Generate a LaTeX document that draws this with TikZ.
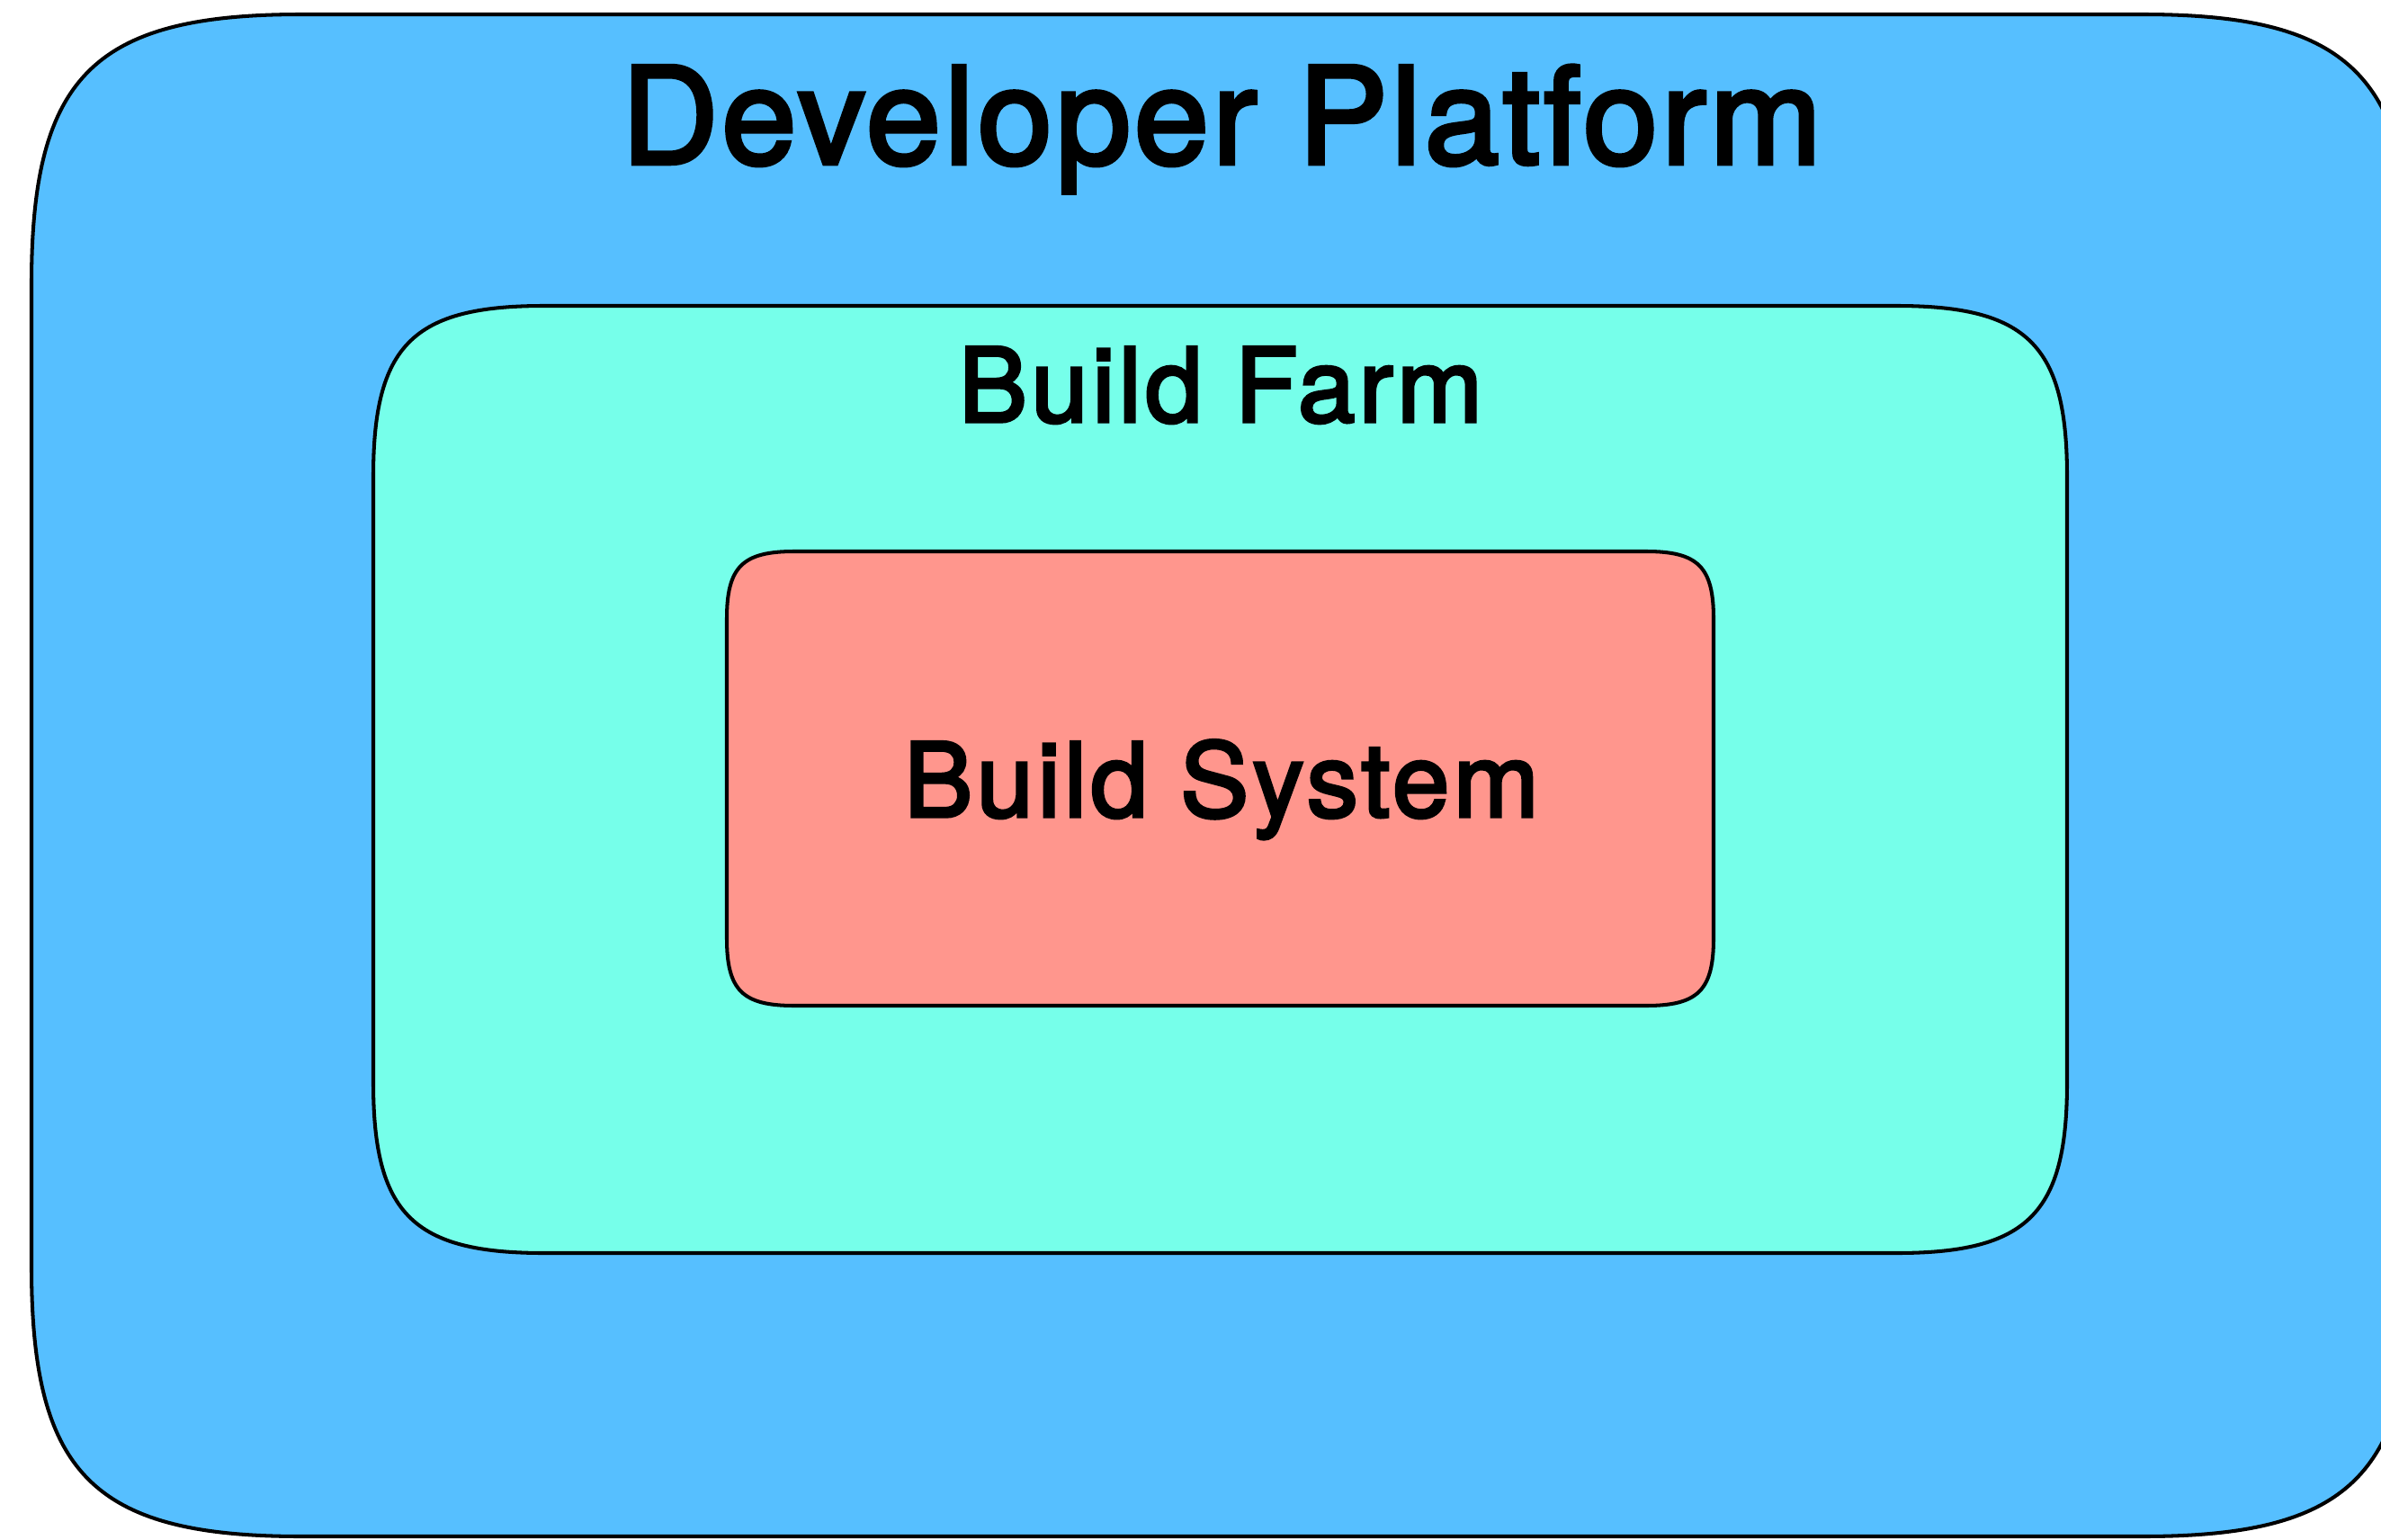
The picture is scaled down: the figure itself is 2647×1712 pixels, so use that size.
\documentclass[tikz,border=0pt]{standalone}
\usepackage{fontspec}
\setmainfont{TeX Gyre Heros}
\definecolor{platformblue}{RGB}{86,191,255}
\definecolor{farmaqua}{RGB}{118,255,234}
\definecolor{systemsalmon}{RGB}{255,150,141}
\tikzset{
  layer/.style={draw=black, line width=1.15pt},
  title/.style={anchor=base, inner sep=0pt, text=black},
}
% rectangle with smooth (continuous-curvature) corners:
% #1,#2 = top-left, #3,#4 = bottom-right, #5 = corner extent, #6 = fill
\newcommand{\smoothrect}[6]{%
  \pgfmathsetmacro\cornerk{#5*0.23}%
  \path[layer, fill=#6]
    (#1,{#2+#5})
      .. controls (#1,{#2+\cornerk}) and ({#1+\cornerk},#2) .. ({#1+#5},#2)
    -- ({#3-#5},#2)
      .. controls ({#3-\cornerk},#2) and (#3,{#2+\cornerk}) .. (#3,{#2+#5})
    -- (#3,{#4-#5})
      .. controls (#3,{#4-\cornerk}) and ({#3-\cornerk},#4) .. ({#3-#5},#4)
    -- ({#1+#5},#4)
      .. controls ({#1+\cornerk},#4) and (#1,{#4-\cornerk}) .. (#1,{#4-#5})
    -- cycle;}
\begin{document}
\begin{tikzpicture}[x=0.01cm, y=-0.01cm]
  \useasboundingbox (0,0) rectangle (2647,1712);
  \clip (0,0) rectangle (2647,1712);
  % nested layers, outermost first
  \smoothrect{35}{16}{2682}{1708}{300}{platformblue}
  \smoothrect{415}{340}{2298}{1393}{190}{farmaqua}
  \smoothrect{808}{613}{1905}{1118}{75}{systemsalmon}
  % layer titles
  \node[title, font=\fontsize{42.5}{50}\selectfont\addfontfeatures{FakeBold=3,LetterSpace=2.6}]
    (platformlabel) at (1358,182) {Developer Platform};
  \node[title, font=\fontsize{32.5}{38}\selectfont\addfontfeatures{FakeBold=3,LetterSpace=3.7}]
    (farmlabel) at (1357,469) {Build Farm};
  \node[title, font=\fontsize{32.5}{38}\selectfont\addfontfeatures{FakeBold=3,LetterSpace=3.7}]
    (systemlabel) at (1358,908) {Build System};
\end{tikzpicture}
\end{document}
